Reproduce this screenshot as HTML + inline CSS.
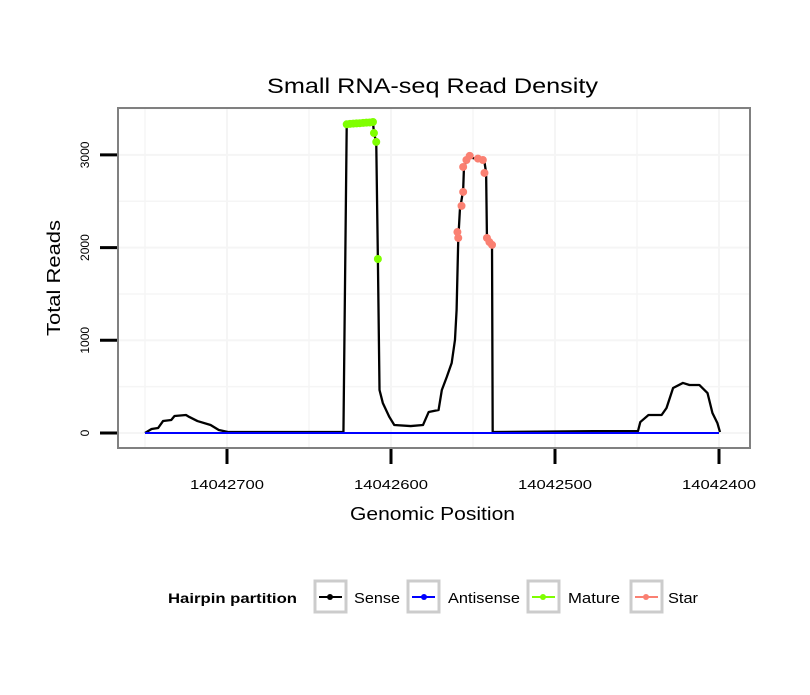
<!DOCTYPE html>
<html><head><meta charset="utf-8"><style>
body{margin:0;background:#fff;font-family:"Liberation Sans",sans-serif}
</style></head><body>
<svg id="chart" width="810" height="690" xmlns="http://www.w3.org/2000/svg" font-family="Liberation Sans, sans-serif">
<text x="267" y="93" font-size="21" textLength="331" lengthAdjust="spacingAndGlyphs">Small RNA-seq Read Density</text>
<g id="grid"></g>
<rect x="118" y="108" width="632" height="340" fill="none" stroke="#808080" stroke-width="2"/>
<g id="marks"></g>
<g id="axes"></g>
<text x="350" y="520" font-size="18" textLength="165" lengthAdjust="spacingAndGlyphs">Genomic Position</text>
<text transform="translate(60,336) rotate(-90)" font-size="18" textLength="116" lengthAdjust="spacingAndGlyphs">Total Reads</text>
<g>
<text x="168" y="603" font-size="14" font-weight="bold" textLength="129" lengthAdjust="spacingAndGlyphs">Hairpin partition</text>
<g><rect x="315" y="581" width="31" height="31" fill="#fff" stroke="#ccc" stroke-width="3"/><line x1="319" y1="597" x2="342" y2="597" stroke="#000" stroke-width="2"/><circle cx="330" cy="597" r="3" fill="#000"/><text x="354" y="603" font-size="15" textLength="46" lengthAdjust="spacingAndGlyphs">Sense</text></g>
<g><rect x="408" y="581" width="31" height="31" fill="#fff" stroke="#ccc" stroke-width="3"/><line x1="412" y1="597" x2="435" y2="597" stroke="#0000ff" stroke-width="2"/><circle cx="424" cy="597" r="3" fill="#0000ff"/><text x="448" y="603" font-size="15" textLength="72" lengthAdjust="spacingAndGlyphs">Antisense</text></g>
<g><rect x="528" y="581" width="31" height="31" fill="#fff" stroke="#ccc" stroke-width="3"/><line x1="532" y1="597" x2="555" y2="597" stroke="#7fff00" stroke-width="2"/><circle cx="543" cy="597" r="3" fill="#7fff00"/><text x="568" y="603" font-size="15" textLength="52" lengthAdjust="spacingAndGlyphs">Mature</text></g>
<g><rect x="631" y="581" width="31" height="31" fill="#fff" stroke="#ccc" stroke-width="3"/><line x1="635" y1="597" x2="658" y2="597" stroke="#fa8072" stroke-width="2"/><circle cx="646" cy="597" r="3" fill="#fa8072"/><text x="668" y="603" font-size="15" textLength="30" lengthAdjust="spacingAndGlyphs">Star</text></g>
</g>
</svg>
<script>
const senseX=[14042750,14042746,14042742,14042739,14042734,14042732,14042725,14042723,14042718,14042710,14042705,14042699,14042629,14042627,14042625,14042619,14042613,14042611,14042610.4,14042609,14042608,14042607,14042605,14042601,14042598,14042588,14042580.5,14042577,14042571,14042569,14042566,14042563,14042561,14042560,14042559,14042558,14042556,14042555.5,14042553,14042544.5,14042543,14042542,14042541.5,14042538.4,14042538,14042477,14042449.4,14042448,14042443,14042435,14042432,14042428,14042422,14042418,14042412,14042407,14042404,14042401,14042399.4];
const senseY=[0,43,54,129,140,183,194,173,129,86,32,10,10,3330,3340,3345,3350,3355,3236,3140,1877,464,324,173,86,75,86,227,248,464,604,755,1003,1327,2082,2405,2621,2870,2977,2945,2923,2805,2104,2006,10,20,20,118,194,194,270,485,540,518,518,431,216,108,10];
const antiX=[14042750,14042400];
const antiY=[0,0];
const matureX=[14042627,14042625,14042623,14042621,14042619,14042617,14042615,14042613,14042611,14042610.4,14042609,14042608];
const matureY=[3330,3335,3338,3340,3342,3345,3348,3350,3355,3236,3140,1877];
const starX=[14042559,14042559.5,14042557,14042556,14042556,14042554,14042552,14042547,14042544,14042543,14042541.5,14042540,14042538.4];
const starY=[2104,2168,2450,2600,2870,2945,2990,2960,2945,2805,2104,2060,2030];
const yTicks=[0,1000,2000,3000];
const xTicks=[14042700,14042600,14042500,14042400];
const sx=v=>227+(14042700-v)*1.64;
const sy=v=>433-v*0.0927;
const NS="http://www.w3.org/2000/svg";
function mk(t,a,p){const e=document.createElementNS(NS,t);for(const k in a)e.setAttribute(k,a[k]);p.appendChild(e);return e;}
const grid=document.getElementById('grid'),marks=document.getElementById('marks'),axes=document.getElementById('axes');
for(let v=0;v<=3500;v+=500){const g=mk('line',{x1:119,x2:749,y1:sy(v),y2:sy(v),stroke:'#f5f5f5','stroke-width':v%1000?1.5:2},grid);

}
for(let v=14042750;v>=14042400;v-=50){const g=mk('line',{x1:sx(v),x2:sx(v),y1:109,y2:447,stroke:'#f5f5f5','stroke-width':v%100?1.5:2},grid);

}
const pts=(X,Y)=>X.map((x,i)=>sx(x)+','+sy(Y[i])).join(' ');
const sl=mk('polyline',{points:pts(senseX,senseY),fill:'none',stroke:'#000','stroke-width':2.3,'stroke-linejoin':'round'},marks);


const al=mk('polyline',{points:pts(antiX,antiY),fill:'none',stroke:'#0000ff','stroke-width':2},marks);


matureX.forEach((x,i)=>{const c=mk('circle',{cx:sx(x),cy:sy(matureY[i]),r:4,fill:'#7fff00'},marks);

});
starX.forEach((x,i)=>{const c=mk('circle',{cx:sx(x),cy:sy(starY[i]),r:4,fill:'#fa8072'},marks);

});
yTicks.forEach(v=>{const l=mk('line',{x1:100,x2:117,y1:sy(v),y2:sy(v),stroke:'#000','stroke-width':3},axes);


const t=mk('text',{transform:`translate(89,${sy(v)}) rotate(-90)`,'font-size':12,'text-anchor':'middle'},axes);t.textContent=v;

});
xTicks.forEach(v=>{const l=mk('line',{x1:sx(v),x2:sx(v),y1:449,y2:464,stroke:'#000','stroke-width':3},axes);


const t=mk('text',{x:sx(v)-37,y:489,'font-size':13,textLength:74,lengthAdjust:'spacingAndGlyphs'},axes);t.textContent=v;

});
</script>
</body></html>
